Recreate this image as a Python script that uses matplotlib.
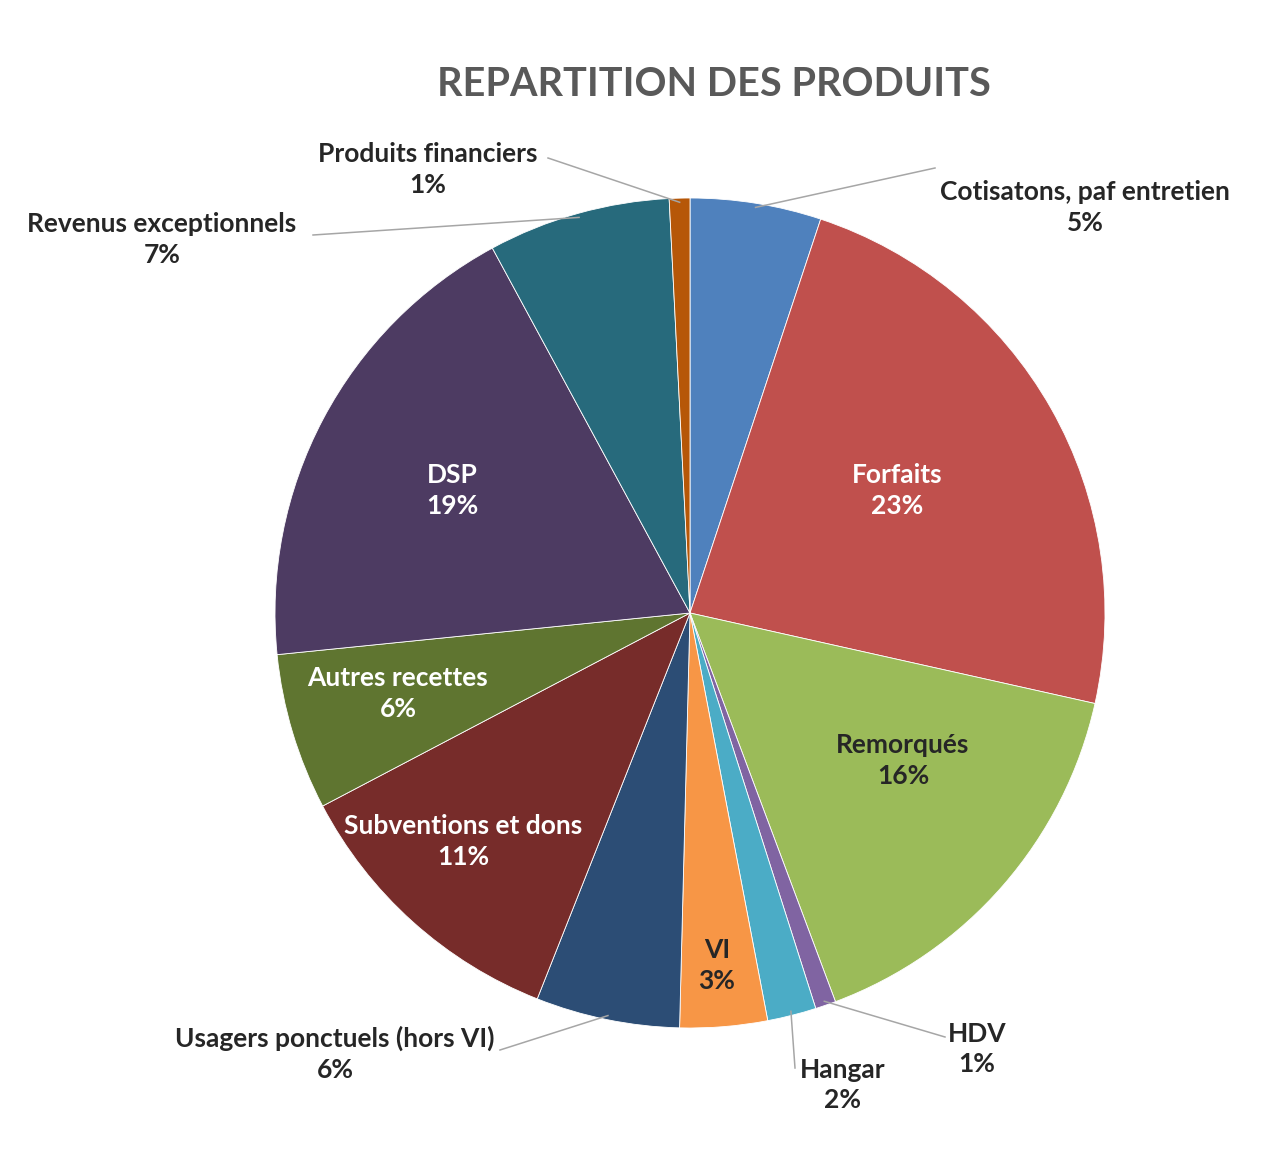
import numpy as np
from matplotlib import pyplot as plt

plt.rcParams['font.family'] = ['Lato', 'DejaVu Sans']

# clockwise from 12 o'clock
categories = ["Cotisatons, paf entretien", "Forfaits", "Remorqués", "HDV", "Hangar", "VI",
              "Usagers ponctuels (hors VI)", "Subventions et dons", "Autres recettes", "DSP",
              "Revenus exceptionnels", "Produits financiers"]
shares = [5.1, 23.4, 15.8, 0.8, 1.9, 3.4, 5.6, 11.3, 6.1, 18.7, 7.1, 0.8]
colors = ["#4F81BD", "#C0504D", "#9BBB59", "#8064A2", "#4BACC6", "#F79646",
          "#2C4D75", "#772C2A", "#5F7530", "#4D3B62", "#276A7C", "#B65708"]

W, H = 1281, 1168
cx, cy, R = 690, 613, 415


def px(x, y):
    return (x - cx) / R, (cy - y) / R


# label centre (pixels), text colour, leader start (pixels) or None
label_layout = {
    "Cotisatons, paf entretien": ((1085, 208), "#262626", (935, 168)),
    "Forfaits": ((897, 491), "white", None),
    "Remorqués": ((903, 761), "#262626", None),
    "HDV": ((977, 1049), "#262626", (945, 1037)),
    "Hangar": ((843, 1085), "#262626", (795, 1068)),
    "VI": ((717, 966), "#262626", None),
    "Usagers ponctuels (hors VI)": ((335, 1054), "#262626", (500, 1050)),
    "Subventions et dons": ((463, 842), "white", None),
    "Autres recettes": ((398, 694), "white", None),
    "DSP": ((452, 491), "white", None),
    "Revenus exceptionnels": ((162, 240), "#262626", (313, 235)),
    "Produits financiers": ((428, 170), "#262626", (548, 158)),
}

fig = plt.figure(figsize=(W / 100, H / 100), dpi=100)
ax = fig.add_axes([0, 0, 1, 1])

wedges, _ = ax.pie(shares, colors=colors, startangle=90, counterclock=False,
                   radius=1, wedgeprops=dict(edgecolor="white", linewidth=0.6))

ax.set_xlim(px(0, 0)[0], px(W, 0)[0])
ax.set_ylim(px(0, H)[1], px(0, 0)[1])
ax.set_aspect("equal")
ax.axis("off")

for w, name, value in zip(wedges, categories, shares):
    (lx, ly), tcolor, lead = label_layout[name]
    tx, ty = px(lx, ly)
    ax.text(tx, ty, f"{name}\n{round(value)}%", ha="center", va="center",
            fontsize=19, fontweight="bold", color=tcolor, linespacing=1.35)
    if lead is not None:
        mid = np.deg2rad((w.theta1 + w.theta2) / 2)
        sx, sy = px(*lead)
        ax.plot([sx, np.cos(mid) * 0.99], [sy, np.sin(mid) * 0.99],
                color="#A6A6A6", linewidth=1.1)

ax.text(*px(714, 84), "REPARTITION DES PRODUITS", ha="center", va="center",
        fontsize=28.5, fontweight="bold", color="#595959")

plt.savefig("out.png", dpi=100)
